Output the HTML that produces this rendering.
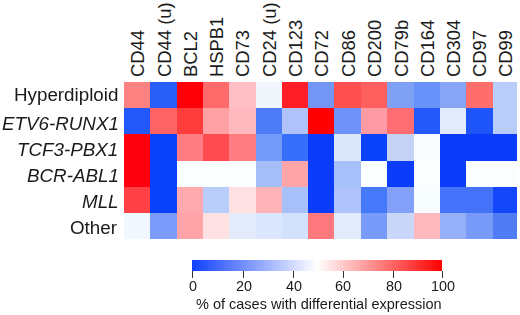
<!DOCTYPE html>
<html><head><meta charset="utf-8"><style>
html,body{margin:0;padding:0;background:#fff;}
body{width:520px;height:315px;position:relative;overflow:hidden;font-family:"Liberation Sans",sans-serif;color:#1a1a1a;}
.c{position:absolute;}
.cl{position:absolute;font-size:18.4px;line-height:18px;white-space:nowrap;transform:rotate(-90deg);transform-origin:0 0;}
.rl{position:absolute;right:401.3px;will-change:transform;font-size:18.8px;line-height:20px;white-space:nowrap;text-align:right;}
.it{font-style:italic;}
.tk{position:absolute;will-change:transform;font-size:14.4px;line-height:16px;white-space:nowrap;transform:translateX(-50%);}
.tick{position:absolute;width:1px;height:7px;background:#333;}
</style></head><body>

<div class="c" style="left:124px;top:82.0px;width:26.4px;height:26.22px;background:#ff8282"></div>
<div class="c" style="left:150.4px;top:82.0px;width:26.2px;height:26.22px;background:#2a5ef8"></div>
<div class="c" style="left:176.6px;top:82.0px;width:26.1px;height:26.22px;background:#ff0008"></div>
<div class="c" style="left:202.7px;top:82.0px;width:26.3px;height:26.22px;background:#ff6a6a"></div>
<div class="c" style="left:229px;top:82.0px;width:26.5px;height:26.22px;background:#ffbec3"></div>
<div class="c" style="left:255.5px;top:82.0px;width:26.4px;height:26.22px;background:#f0f6fc"></div>
<div class="c" style="left:281.9px;top:82.0px;width:26.2px;height:26.22px;background:#ff1e28"></div>
<div class="c" style="left:308.1px;top:82.0px;width:26.3px;height:26.22px;background:#7396f5"></div>
<div class="c" style="left:334.4px;top:82.0px;width:26.4px;height:26.22px;background:#ff5050"></div>
<div class="c" style="left:360.8px;top:82.0px;width:26.5px;height:26.22px;background:#ff5f5f"></div>
<div class="c" style="left:387.3px;top:82.0px;width:26.5px;height:26.22px;background:#7ea0f5"></div>
<div class="c" style="left:413.8px;top:82.0px;width:26.2px;height:26.22px;background:#6991fa"></div>
<div class="c" style="left:440px;top:82.0px;width:26.2px;height:26.22px;background:#87a5f5"></div>
<div class="c" style="left:466.2px;top:82.0px;width:26.4px;height:26.22px;background:#ff6e6b"></div>
<div class="c" style="left:492.6px;top:82.0px;width:24.6px;height:26.22px;background:#b9cdfa"></div>
<div class="c" style="left:124px;top:108.22px;width:26.4px;height:26.21px;background:#2258fa"></div>
<div class="c" style="left:150.4px;top:108.22px;width:26.2px;height:26.21px;background:#ff6464"></div>
<div class="c" style="left:176.6px;top:108.22px;width:26.1px;height:26.21px;background:#ff3c3c"></div>
<div class="c" style="left:202.7px;top:108.22px;width:26.3px;height:26.21px;background:#ffa0a5"></div>
<div class="c" style="left:229px;top:108.22px;width:26.5px;height:26.21px;background:#ffb9be"></div>
<div class="c" style="left:255.5px;top:108.22px;width:26.4px;height:26.21px;background:#4e7cf8"></div>
<div class="c" style="left:281.9px;top:108.22px;width:26.2px;height:26.21px;background:#afc3fa"></div>
<div class="c" style="left:308.1px;top:108.22px;width:26.3px;height:26.21px;background:#ff0000"></div>
<div class="c" style="left:334.4px;top:108.22px;width:26.4px;height:26.21px;background:#6e91fa"></div>
<div class="c" style="left:360.8px;top:108.22px;width:26.5px;height:26.21px;background:#ff9ba5"></div>
<div class="c" style="left:387.3px;top:108.22px;width:26.5px;height:26.21px;background:#ff6e73"></div>
<div class="c" style="left:413.8px;top:108.22px;width:26.2px;height:26.21px;background:#2358fa"></div>
<div class="c" style="left:440px;top:108.22px;width:26.2px;height:26.21px;background:#e1ebfc"></div>
<div class="c" style="left:466.2px;top:108.22px;width:26.4px;height:26.21px;background:#1e55fa"></div>
<div class="c" style="left:492.6px;top:108.22px;width:24.6px;height:26.21px;background:#b9cdfa"></div>
<div class="c" style="left:124px;top:134.43px;width:26.4px;height:26.22px;background:#ff000f"></div>
<div class="c" style="left:150.4px;top:134.43px;width:26.2px;height:26.22px;background:#0a41fa"></div>
<div class="c" style="left:176.6px;top:134.43px;width:26.1px;height:26.22px;background:#ff7d82"></div>
<div class="c" style="left:202.7px;top:134.43px;width:26.3px;height:26.22px;background:#ff4b50"></div>
<div class="c" style="left:229px;top:134.43px;width:26.5px;height:26.22px;background:#ff7d82"></div>
<div class="c" style="left:255.5px;top:134.43px;width:26.4px;height:26.22px;background:#739bfa"></div>
<div class="c" style="left:281.9px;top:134.43px;width:26.2px;height:26.22px;background:#376efa"></div>
<div class="c" style="left:308.1px;top:134.43px;width:26.3px;height:26.22px;background:#0a3cfa"></div>
<div class="c" style="left:334.4px;top:134.43px;width:26.4px;height:26.22px;background:#dce8fa"></div>
<div class="c" style="left:360.8px;top:134.43px;width:26.5px;height:26.22px;background:#0a41fa"></div>
<div class="c" style="left:387.3px;top:134.43px;width:26.5px;height:26.22px;background:#c3d2f5"></div>
<div class="c" style="left:413.8px;top:134.43px;width:26.2px;height:26.22px;background:#f8fcff"></div>
<div class="c" style="left:440px;top:134.43px;width:26.2px;height:26.22px;background:#0a3cfa"></div>
<div class="c" style="left:466.2px;top:134.43px;width:26.4px;height:26.22px;background:#0a3cfa"></div>
<div class="c" style="left:492.6px;top:134.43px;width:24.6px;height:26.22px;background:#0a3cfa"></div>
<div class="c" style="left:124px;top:160.65px;width:26.4px;height:26.22px;background:#ff000f"></div>
<div class="c" style="left:150.4px;top:160.65px;width:26.2px;height:26.22px;background:#0a41fa"></div>
<div class="c" style="left:176.6px;top:160.65px;width:26.1px;height:26.22px;background:#fafeff"></div>
<div class="c" style="left:202.7px;top:160.65px;width:26.3px;height:26.22px;background:#fafeff"></div>
<div class="c" style="left:229px;top:160.65px;width:26.5px;height:26.22px;background:#fafeff"></div>
<div class="c" style="left:255.5px;top:160.65px;width:26.4px;height:26.22px;background:#a5befa"></div>
<div class="c" style="left:281.9px;top:160.65px;width:26.2px;height:26.22px;background:#ffa5aa"></div>
<div class="c" style="left:308.1px;top:160.65px;width:26.3px;height:26.22px;background:#0a3cfa"></div>
<div class="c" style="left:334.4px;top:160.65px;width:26.4px;height:26.22px;background:#a8c0fa"></div>
<div class="c" style="left:360.8px;top:160.65px;width:26.5px;height:26.22px;background:#fafeff"></div>
<div class="c" style="left:387.3px;top:160.65px;width:26.5px;height:26.22px;background:#0a3cfa"></div>
<div class="c" style="left:413.8px;top:160.65px;width:26.2px;height:26.22px;background:#fafeff"></div>
<div class="c" style="left:440px;top:160.65px;width:26.2px;height:26.22px;background:#0a3cfa"></div>
<div class="c" style="left:466.2px;top:160.65px;width:26.4px;height:26.22px;background:#fafeff"></div>
<div class="c" style="left:492.6px;top:160.65px;width:24.6px;height:26.22px;background:#fafeff"></div>
<div class="c" style="left:124px;top:186.87px;width:26.4px;height:26.21px;background:#ff4146"></div>
<div class="c" style="left:150.4px;top:186.87px;width:26.2px;height:26.21px;background:#0a41fa"></div>
<div class="c" style="left:176.6px;top:186.87px;width:26.1px;height:26.21px;background:#ffaaaf"></div>
<div class="c" style="left:202.7px;top:186.87px;width:26.3px;height:26.21px;background:#b9cdfa"></div>
<div class="c" style="left:229px;top:186.87px;width:26.5px;height:26.21px;background:#ffe1e4"></div>
<div class="c" style="left:255.5px;top:186.87px;width:26.4px;height:26.21px;background:#ffb4b9"></div>
<div class="c" style="left:281.9px;top:186.87px;width:26.2px;height:26.21px;background:#a8c0fa"></div>
<div class="c" style="left:308.1px;top:186.87px;width:26.3px;height:26.21px;background:#0a3cfa"></div>
<div class="c" style="left:334.4px;top:186.87px;width:26.4px;height:26.21px;background:#afc3fa"></div>
<div class="c" style="left:360.8px;top:186.87px;width:26.5px;height:26.21px;background:#4678fa"></div>
<div class="c" style="left:387.3px;top:186.87px;width:26.5px;height:26.21px;background:#82a0f8"></div>
<div class="c" style="left:413.8px;top:186.87px;width:26.2px;height:26.21px;background:#f8fdff"></div>
<div class="c" style="left:440px;top:186.87px;width:26.2px;height:26.21px;background:#4473fa"></div>
<div class="c" style="left:466.2px;top:186.87px;width:26.4px;height:26.21px;background:#4473fa"></div>
<div class="c" style="left:492.6px;top:186.87px;width:24.6px;height:26.21px;background:#1446fa"></div>
<div class="c" style="left:124px;top:213.08px;width:26.4px;height:26.22px;background:#f2f8ff"></div>
<div class="c" style="left:150.4px;top:213.08px;width:26.2px;height:26.22px;background:#7d9bfa"></div>
<div class="c" style="left:176.6px;top:213.08px;width:26.1px;height:26.22px;background:#ffa5aa"></div>
<div class="c" style="left:202.7px;top:213.08px;width:26.3px;height:26.22px;background:#ffe1e4"></div>
<div class="c" style="left:229px;top:213.08px;width:26.5px;height:26.22px;background:#e4ecfc"></div>
<div class="c" style="left:255.5px;top:213.08px;width:26.4px;height:26.22px;background:#dce6fc"></div>
<div class="c" style="left:281.9px;top:213.08px;width:26.2px;height:26.22px;background:#d2e1fc"></div>
<div class="c" style="left:308.1px;top:213.08px;width:26.3px;height:26.22px;background:#ff787d"></div>
<div class="c" style="left:334.4px;top:213.08px;width:26.4px;height:26.22px;background:#e1ebfc"></div>
<div class="c" style="left:360.8px;top:213.08px;width:26.5px;height:26.22px;background:#789bfa"></div>
<div class="c" style="left:387.3px;top:213.08px;width:26.5px;height:26.22px;background:#c8d7fa"></div>
<div class="c" style="left:413.8px;top:213.08px;width:26.2px;height:26.22px;background:#ffb9be"></div>
<div class="c" style="left:440px;top:213.08px;width:26.2px;height:26.22px;background:#96affa"></div>
<div class="c" style="left:466.2px;top:213.08px;width:26.4px;height:26.22px;background:#789bfa"></div>
<div class="c" style="left:492.6px;top:213.08px;width:24.6px;height:26.22px;background:#507df5"></div>
<div class="cl" style="left:129.2px;top:77px">CD44</div>
<div class="cl" style="left:155.5px;top:77px">CD44 (u)</div>
<div class="cl" style="left:181.65px;top:77px">BCL2</div>
<div class="cl" style="left:207.85px;top:77px">HSPB1</div>
<div class="cl" style="left:234.25px;top:77px">CD73</div>
<div class="cl" style="left:260.7px;top:77px">CD24 (u)</div>
<div class="cl" style="left:287.0px;top:77px">CD123</div>
<div class="cl" style="left:313.25px;top:77px">CD72</div>
<div class="cl" style="left:339.6px;top:77px">CD86</div>
<div class="cl" style="left:366.05px;top:77px">CD200</div>
<div class="cl" style="left:392.55px;top:77px">CD79b</div>
<div class="cl" style="left:418.9px;top:77px">CD164</div>
<div class="cl" style="left:445.1px;top:77px">CD304</div>
<div class="cl" style="left:471.4px;top:77px">CD97</div>
<div class="cl" style="left:496.9px;top:77px">CD99</div>
<div class="rl" style="top:85.0px;right:401.3px">Hyperdiploid</div>
<div class="rl it" style="top:113.5px;right:401.3px">ETV6-RUNX1</div>
<div class="rl it" style="top:139.5px;right:401.3px">TCF3-PBX1</div>
<div class="rl it" style="top:165.5px;right:401.3px">BCR-ABL1</div>
<div class="rl it" style="top:191.8px;right:401.3px">MLL</div>
<div class="rl" style="top:217.5px;right:403px">Other</div>
<div class="c" style="left:192px;top:260px;width:250px;height:11px;background:linear-gradient(to right,#1040ff,#ffffff 50%,#ff0000)"></div>
<div class="tick" style="left:191.5px;top:271px"></div>
<div class="tk" style="left:192.6px;top:278px">0</div>
<div class="tick" style="left:243.0px;top:271px"></div>
<div class="tk" style="left:244px;top:278px">20</div>
<div class="tick" style="left:293.0px;top:271px"></div>
<div class="tk" style="left:293.5px;top:278px">40</div>
<div class="tick" style="left:342.5px;top:271px"></div>
<div class="tk" style="left:343.3px;top:278px">60</div>
<div class="tick" style="left:392.8px;top:271px"></div>
<div class="tk" style="left:394.2px;top:278px">80</div>
<div class="tick" style="left:441.5px;top:271px"></div>
<div class="tk" style="left:443px;top:278px">100</div>
<div class="c" style="left:195.5px;top:296px;font-size:14.5px;line-height:16px;white-space:nowrap;will-change:transform">% of cases with differential expression</div>
</body></html>
